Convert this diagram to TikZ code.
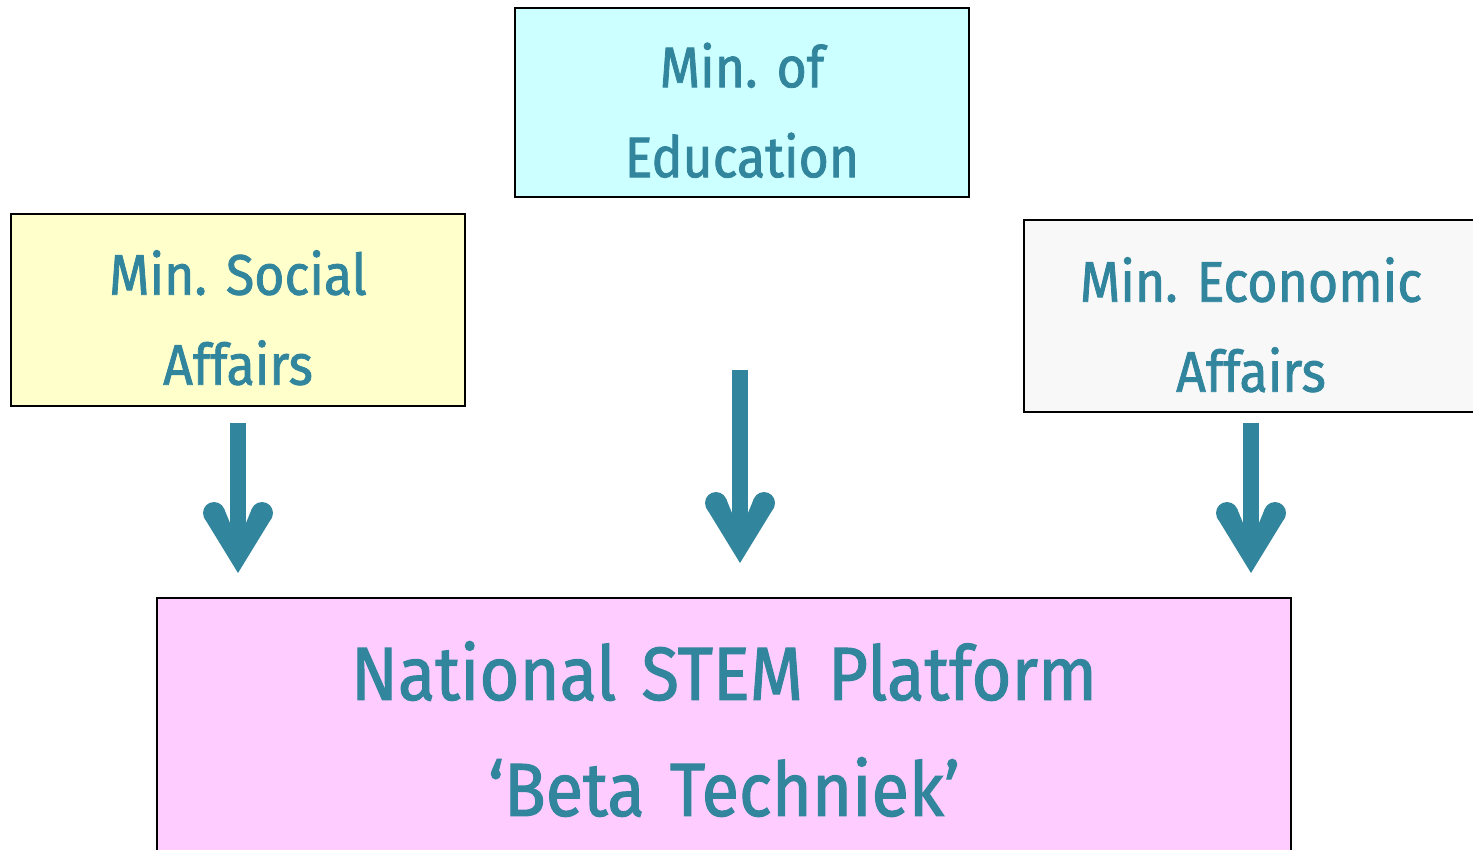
\documentclass[tikz,border=0pt]{standalone}
\usepackage{fontspec}
\setmainfont{Fira Sans}[FakeBold=1.4,FakeStretch=0.91]
\frenchspacing
\definecolor{tealtxt}{HTML}{31859C}
\definecolor{edufill}{HTML}{CCFFFF}
\definecolor{socfill}{HTML}{FFFFCC}
\definecolor{ecofill}{HTML}{F8F8F8}
\definecolor{platfill}{HTML}{FFCCFF}
\tikzset{
  minbox/.style={draw=black, line width=1pt, minimum width=227pt, minimum height=95pt,
    text width=220pt, align=center, inner sep=0pt, text=tealtxt,
    font=\fontsize{28.5}{45}\selectfont},
  platbox/.style={draw=black, line width=1pt, minimum width=567pt, minimum height=131pt,
    text width=560pt, align=center, inner sep=0pt, text=tealtxt,
    font=\fontsize{37.7}{58}\selectfont},
  shaft/.style={draw=tealtxt, line width=8pt},
  pics/vhead/.style={code={
    \fill[tealtxt] (0,0) -- (-34.2,-55.9) -- (-13.8,-64.1) -- (-8,-50) -- (8,-50)
       -- (13.8,-64.1) -- (34.2,-55.9) -- cycle;
    \fill[tealtxt] (-24,-60) circle[radius=11];
    \fill[tealtxt] (24,-60) circle[radius=11];
  }}
}
\begin{document}
\begin{tikzpicture}[x=0.5pt,y=-0.5pt]
\useasboundingbox (0,0) rectangle (1473,850);
\clip (0,0) rectangle (1473,850);
\fill[white] (0,0) rectangle (1473,850);
\node[minbox, fill=edufill, minimum height=94.5pt] (edu) at (742,102.5) {\rule{0pt}{30pt}Min. of\\Education};
\node[minbox, fill=socfill, minimum height=96pt] (soc) at (238,310) {\rule{0pt}{30pt}Min. Social\\Affairs};
\node[minbox, fill=ecofill, minimum height=96pt] (eco) at (1251,316) {\rule{0pt}{31pt}Min. Economic\\Affairs};
\node[platbox, fill=platfill] (plat) at (724,729) {National STEM Platform\\‘Beta Techniek’};
% arrows
\coordinate (a1s) at (238,423); \coordinate (a1t) at (238,573); \coordinate (a1e) at (238,545);
\coordinate (a2s) at (740,370); \coordinate (a2t) at (740,563); \coordinate (a2e) at (740,535);
\coordinate (a3s) at (1251,423); \coordinate (a3t) at (1251,573); \coordinate (a3e) at (1251,545);
\draw[shaft] (a1s) -- (a1e);
\draw[shaft] (a2s) -- (a2e);
\draw[shaft] (a3s) -- (a3e);
\pic at (a1t) {vhead};
\pic at (a2t) {vhead};
\pic at (a3t) {vhead};
\end{tikzpicture}
\end{document}
